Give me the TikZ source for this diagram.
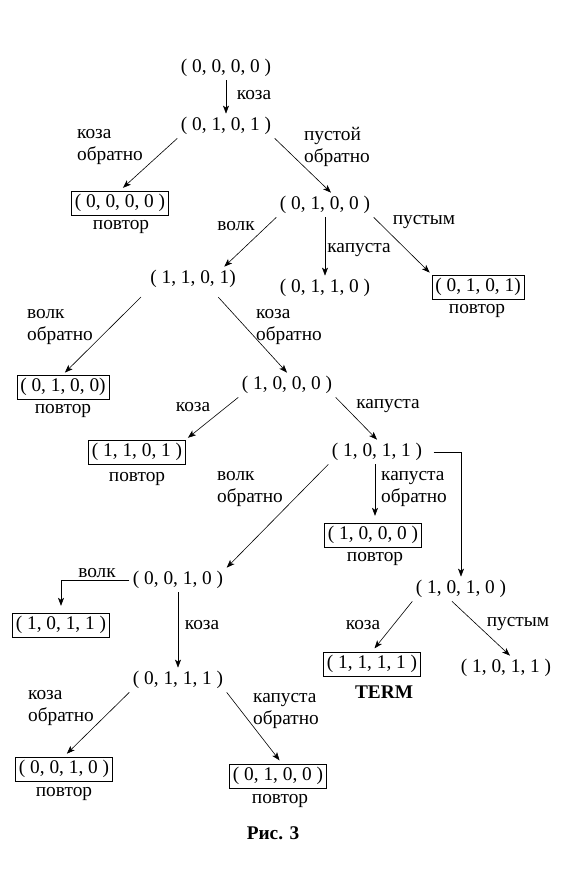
\documentclass[tikz,border=0pt]{standalone}
\usepackage{fontspec}
\setmainfont{Liberation Serif}
\usetikzlibrary{arrows.meta}
\tikzset{
  st/.style  ={inner sep=2.5pt, font=\fontsize{14.5}{16.5}\selectfont},
  rep/.style ={st, draw, line width=0.6pt},
  lbl/.style ={align=left, inner sep=0pt, font=\fontsize{14.5}{16.5}\selectfont},
  bold/.style={lbl, font=\fontsize{14.5}{16.5}\selectfont\bfseries},
  arr/.style ={-{Stealth[length=6pt,width=4.5pt,inset=1.5pt]}, line width=0.45pt},
}
\begin{document}
\begin{tikzpicture}[x=0.75pt,y=-0.75pt]
  \useasboundingbox (0,0) rectangle (576,896);

  % states
  \node[st]  (root)   at (226, 68) {( 0, 0, 0, 0 )};
  \node[st]  (n0101)  at (226,126) {( 0, 1, 0, 1 )};
  \node[rep] (b0000)  at (120,203) {( 0, 0, 0, 0 )};
  \node[st]  (n0100)  at (325,205) {( 0, 1, 0, 0 )};
  \node[st]  (n0110)  at (325,288) {( 0, 1, 1, 0 )};
  \node[rep] (b0101)  at (478,287) {( 0, 1, 0, 1)};
  \node[st]  (n1101)  at (193,279) {( 1, 1, 0, 1)};
  \node[rep] (b0100)  at ( 63,387) {( 0, 1, 0, 0)};
  \node[st]  (n1000)  at (287,385) {( 1, 0, 0, 0 )};
  \node[rep] (b1101)  at (137,452) {( 1, 1, 0, 1 )};
  \node[st]  (n1011)  at (377,452) {( 1, 0, 1, 1 )};
  \node[rep] (b1000)  at (373,535) {( 1, 0, 0, 0 )};
  \node[st]  (n0010)  at (178,580) {( 0, 0, 1, 0 )};
  \node[rep] (b1011)  at ( 61,625) {( 1, 0, 1, 1 )};
  \node[st]  (n1010)  at (461,589) {( 1, 0, 1, 0 )};
  \node[rep] (b1111)  at (372,664) {( 1, 1, 1, 1 )};
  \node[st]  (n1011b) at (506,668) {( 1, 0, 1, 1 )};
  \node[st]  (n0111)  at (178,680) {( 0, 1, 1, 1 )};
  \node[rep] (b0010)  at ( 64,769) {( 0, 0, 1, 0 )};
  \node[rep] (b0100b) at (278,776) {( 0, 1, 0, 0 )};

  % notes under the boxes
  \node[lbl] (r1) at (121,227) {повтор};
  \node[lbl] (r2) at (477,311) {повтор};
  \node[lbl] (r3) at ( 63,411) {повтор};
  \node[lbl] (r4) at (137,479) {повтор};
  \node[lbl] (r5) at (375,559) {повтор};
  \node[lbl] (r6) at ( 64,794) {повтор};
  \node[lbl] (r7) at (280,801) {повтор};
  \node[bold] (term) at (384,692) {TERM};
  \node[bold] (cap)  at (273,833) {Рис. 3};

  % move labels
  \node[lbl] (m1)  at (254, 95) {коза};
  \node[lbl] (m2)  at (110,147) {коза\\обратно};
  \node[lbl] (m3)  at (337,147) {пустой\\обратно};
  \node[lbl] (m4)  at (236,226) {волк};
  \node[lbl] (m5)  at (359,250) {капуста};
  \node[lbl] (m6)  at (424,222) {пустым};
  \node[lbl] (m7)  at ( 60,327) {волк\\обратно};
  \node[lbl] (m8)  at (289,327) {коза\\обратно};
  \node[lbl] (m9)  at (193,407) {коза};
  \node[lbl] (m10) at (388,406) {капуста};
  \node[lbl] (m11) at (250,489) {волк\\обратно};
  \node[lbl] (m12) at (414,489) {капуста\\обратно};
  \node[lbl] (m13) at ( 97,573) {волк};
  \node[lbl] (m14) at (202,625) {коза};
  \node[lbl] (m15) at (363,625) {коза};
  \node[lbl] (m16) at (518,624) {пустым};
  \node[lbl] (m17) at ( 61,708) {коза\\обратно};
  \node[lbl] (m18) at (286,711) {капуста\\обратно};

  % connectors
  \draw[arr] (root.south) -- (n0101.north);
  \draw[arr,shorten >=3pt] (n0101.south west) -- (b0000.north);
  \draw[arr] (n0101.south east) -- ([shift={(6,0)}]n0100.north);
  \draw[arr] (n0100.south west) -- ([shift={(-15,0)}]n1101.north east);
  \draw[arr] (n0100.south) -- (n0110.north);
  \draw[arr,shorten >=2pt] (n0100.south east) -- (b0101.north west);
  \draw[arr,shorten <=6pt,shorten >=2pt] (n1101.south west) -- (b0100.north);
  \draw[arr,shorten <=6pt] ([shift={(20,0)}]n1101.south) -- (n1000.north);
  \draw[arr,shorten >=2pt] (n1000.south west) -- (b1101.north east);
  \draw[arr] (n1000.south east) -- (n1011.north);
  \draw[arr,shorten <=6pt] (n1011.east) -| (n1010.north);
  \draw[arr,shorten >=5pt] ([shift={(-2,0)}]n1011.south) -- ([shift={(-2,0)}]n1011.south |- b1000.north);
  \draw[arr] (n1011.south west) -- (n0010.north east);
  \draw[arr,shorten >=5pt] (n0010.west) -| (b1011.north);
  \draw[arr] (n0010.south) -- (n0111.north);
  \draw[arr,shorten >=3pt] (n0111.south west) -- (b0010.north);
  \draw[arr,shorten >=3pt] (n0111.south east) -- ([shift={(4,0)}]b0100b.north);
  \draw[arr,shorten >=3pt] (n1010.south west) -- (b1111.north);
  \draw[arr] ([shift={(-9,0)}]n1010.south) -- ([shift={(4,0)}]n1011b.north);
\end{tikzpicture}
\end{document}
